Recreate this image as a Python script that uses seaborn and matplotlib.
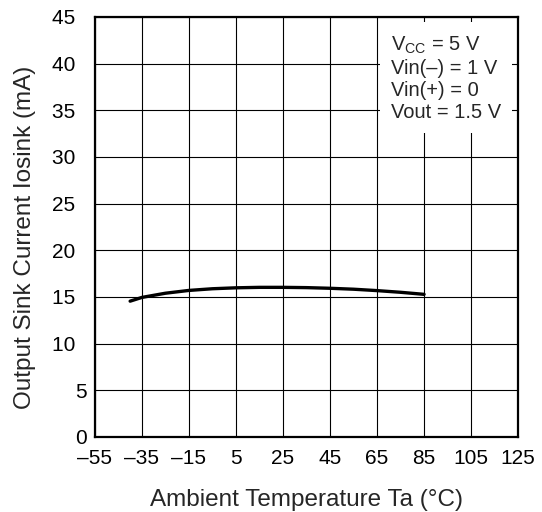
import pandas as pd
import matplotlib.pyplot as plt
import seaborn as sns

# Output sink current vs ambient temperature
temp = [-40, -35, -25, -15, -5, 5, 15, 25, 35, 45, 55, 65, 75, 85]
i_sink = [14.55, 14.95, 15.4, 15.7, 15.88, 15.98, 16.03, 16.03, 16.0, 15.93, 15.83, 15.68, 15.5, 15.28]

x_ticks = [-55, -35, -15, 5, 25, 45, 65, 85, 105, 125]
x_labels = ["\u201355", "\u201335", "\u201315", "5", "25", "45", "65", "85", "105", "125"]
y_ticks = [0, 5, 10, 15, 20, 25, 30, 35, 40, 45]
# two-digit labels sit a digit further left in the original
y_labels = ["0", "5", "10\u2007", "15\u2007", "20\u2007", "25\u2007", "30\u2007", "35\u2007", "40\u2007", "45\u2007"]

conditions = "V$_{\\mathregular{CC}}$ = 5 V\nVin(\u2013) = 1 V\nVin(+) = 0\nVout = 1.5 V"

sns.set_style("white")
plt.rcParams['font.family'] = ['Liberation Sans', 'DejaVu Sans']

df = pd.DataFrame({"Temp": temp, "Iosink": i_sink})

fig = plt.figure(figsize=(5.42, 5.12), dpi=100)
ax = fig.add_axes([0.175, 0.1465, 0.781, 0.8205])

sns.lineplot(data=df, x="Temp", y="Iosink", color="black", linewidth=2.4, ax=ax, zorder=3)

ax.set_xlim(-55, 125)
ax.set_ylim(0, 45)
ax.set_xticks(x_ticks)
ax.set_xticklabels(x_labels)
ax.set_yticks(y_ticks)
ax.set_yticklabels(y_labels)
ax.tick_params(labelsize=15, length=0, colors="black")
ax.tick_params(axis="x", pad=9)
ax.tick_params(axis="y", pad=6)
ax.grid(True, color="black", linewidth=0.8)
for s in ax.spines.values():
    s.set_linewidth(1.6)
    s.set_color("black")

ax.set_xlabel("Ambient Temperature Ta (\u00b0C)", fontsize=17.5, labelpad=15)
ax.set_ylabel("Output Sink Current Iosink (mA)", fontsize=17.5)
ax.yaxis.set_label_coords(-0.14, 0.475)

ax.text(71, 43.1, conditions, fontsize=14.5, va="top", ha="left", linespacing=1.2,
        bbox=dict(facecolor="white", edgecolor="none", pad=8), zorder=4)

plt.savefig("out.png", dpi=100)
plt.close()
